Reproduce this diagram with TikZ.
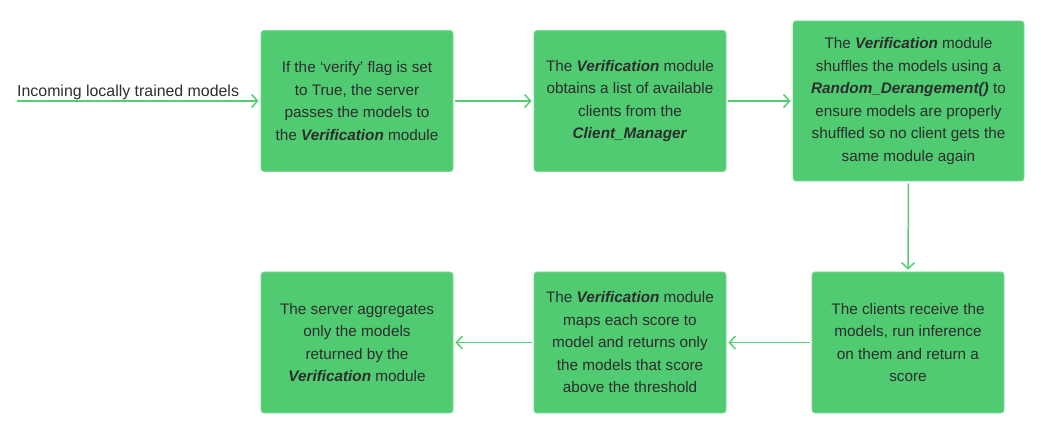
\documentclass[tikz,border=0pt]{standalone}
\usepackage{fontspec}
\setmainfont{Liberation Sans}
\usetikzlibrary{arrows.meta}
\definecolor{boxgreen}{RGB}{80,203,113}
\definecolor{edgegreen}{RGB}{120,218,146}
\definecolor{linegreen}{RGB}{84,206,117}
\definecolor{textgray}{RGB}{45,45,45}
\newcommand{\bi}[1]{\textbf{\textit{#1}}}
\tikzset{
	stepbox/.style={fill=boxgreen, draw=edgegreen, line width=0.8pt, rounded corners=3pt,
		minimum width=192pt, minimum height=141pt, align=center, inner sep=0pt,
		text=textgray, font=\fontsize{15.3}{22.5}\selectfont},
	flow/.style={draw=linegreen, line width=1.5pt, -{Straight Barb[length=6pt,width=13pt,line width=1.5pt]}, shorten >=2pt, shorten <=2pt}
}
\begin{document}
\begin{tikzpicture}[x=1pt,y=1pt]
		\useasboundingbox (0,0) rectangle (1041,433);
		%top row
		\node[stepbox] (flag) at (357,332) {If the `verify' flag is set\\to True, the server\\passes the models to\\the \bi{Verification} module};
		\node[stepbox] (clients) at (630,332) {The \bi{Verification} module\\obtains a list of available\\clients from the\\\bi{Client\_Manager}};
		\node[stepbox, minimum width=231pt, minimum height=160pt] (shuffle) at (908.5,332) {The \bi{Verification} module\\shuffles the models using a\\\bi{Random\_Derangement()} to\\ensure models are properly\\shuffled so no client gets the\\same module again};
		%bottom row
		\node[stepbox] (score) at (908,90.5) {The clients receive the\\models, run inference\\on them and return a\\score};
		\node[stepbox] (threshold) at (630,90.5) {The \bi{Verification} module\\maps each score to\\model and returns only\\the models that score\\above the threshold};
		\node[stepbox] (aggregate) at (357,90.5) {The server aggregates\\only the models\\returned by the\\\bi{Verification} module};
		%input
		\coordinate (in) at (17,332);
		\node[anchor=base west, inner sep=0pt, text=textgray, font=\fontsize{15.9}{18}\selectfont] (inlabel) at (17,336) {Incoming locally trained models};
		%arrows
		\draw[flow, shorten <=0pt] (in) -- (flag.west);
		\draw[flow] (flag.east) -- (clients.west);
		\draw[flow] (clients.east) -- (shuffle.west);
		\draw[flow] (shuffle.south) -- (score.north);
		\draw[flow] (score.west) -- (threshold.east);
		\draw[flow] (threshold.west) -- (aggregate.east);
	\end{tikzpicture}
\end{document}
